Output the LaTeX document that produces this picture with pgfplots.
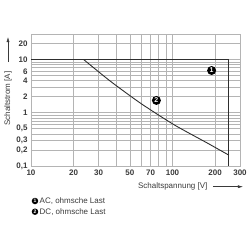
\documentclass[border=0pt]{standalone}
\usepackage{pgfplots}
\pgfplotsset{compat=1.18}
\usepackage{fontspec}
\setmainfont{Liberation Sans}
\usetikzlibrary{arrows.meta}
\definecolor{txt}{HTML}{3A3A3A}
\definecolor{gridc}{HTML}{B4B4B4}
\definecolor{crv}{HTML}{2E2E2E}
\begin{document}
\begin{tikzpicture}[x=1pt,y=1pt]
\path[use as bounding box] (0,0) rectangle (250,250);
\begin{axis}[
  at={(31pt,84pt)}, anchor=south west,
  width=209pt, height=132pt, scale only axis,
  xmode=log, ymode=log,
  xmin=10, xmax=300, ymin=0.1, ymax=30,
  xtick={10,20,30,50,70,100,200,300},
  xticklabels={10,20,30,50,70,100,200,300},
  ytick={0.1,0.2,0.3,0.5,1,2,4,6,10,20},
  yticklabels={{0,1},{0,2},{0,3},{0,5},1,2,4,6,10,20},
  minor xtick={40,60,80,90},
  minor ytick={0.4,0.6,0.7,0.8,0.9,3,5,7,8,9},
  grid=both,
  major grid style={draw=gridc, line width=0.6pt},
  minor grid style={draw=gridc, line width=0.6pt},
  axis line style={draw=gridc, line width=0.6pt},
  major tick length=0pt, minor tick length=0pt,
  tick label style={font=\bfseries\fontsize{8}{9}\selectfont, text=txt},
  clip=false,
]
\addplot[draw=crv, line width=0.9pt] coordinates {(10,10) (250,10) (250,0.1)};
\addplot[draw=crv, line width=0.9pt, smooth, tension=0.4] coordinates {
 (23.5,10) (36.4,3.9) (59.6,1.5) (102.6,0.594) (177,0.268) (250,0.16)};
\node[circle, fill=black, inner sep=0pt, minimum size=9pt, text=white, font=\bfseries\fontsize{7}{7}\selectfont] at (axis cs:189,6.2) {1};
\node[circle, fill=black, inner sep=0pt, minimum size=9pt, text=white, font=\bfseries\fontsize{7}{7}\selectfont] at (axis cs:77,1.7) {2};
\end{axis}
% axis labels
\node[rotate=90, text=txt, font=\fontsize{8}{9}\selectfont, anchor=east] at (8,182) {Schaltstrom [A]};
\draw[txt, line width=0.5pt, -{Latex[length=5pt,width=3pt]}] (8,188) -- (8,213);
\node[text=txt, font=\fontsize{8}{9}\selectfont, anchor=west] at (134.5,63.3) {Schaltspannung [V]};
\draw[txt, line width=0.5pt, -{Latex[length=5pt,width=3pt]}] (213,63.3) -- (243,63.3);
% legend
\node[circle, fill=black, inner sep=0pt, minimum size=6.5pt, text=white, font=\bfseries\fontsize{5}{5}\selectfont] at (35,49) {1};
\node[text=txt, font=\fontsize{8}{9}\selectfont, anchor=west, inner sep=0pt] at (39.5,49) {AC, ohmsche Last};
\node[circle, fill=black, inner sep=0pt, minimum size=6.5pt, text=white, font=\bfseries\fontsize{5}{5}\selectfont] at (35,38.3) {2};
\node[text=txt, font=\fontsize{8}{9}\selectfont, anchor=west, inner sep=0pt] at (39.5,38.3) {DC, ohmsche Last};
\end{tikzpicture}
\end{document}
